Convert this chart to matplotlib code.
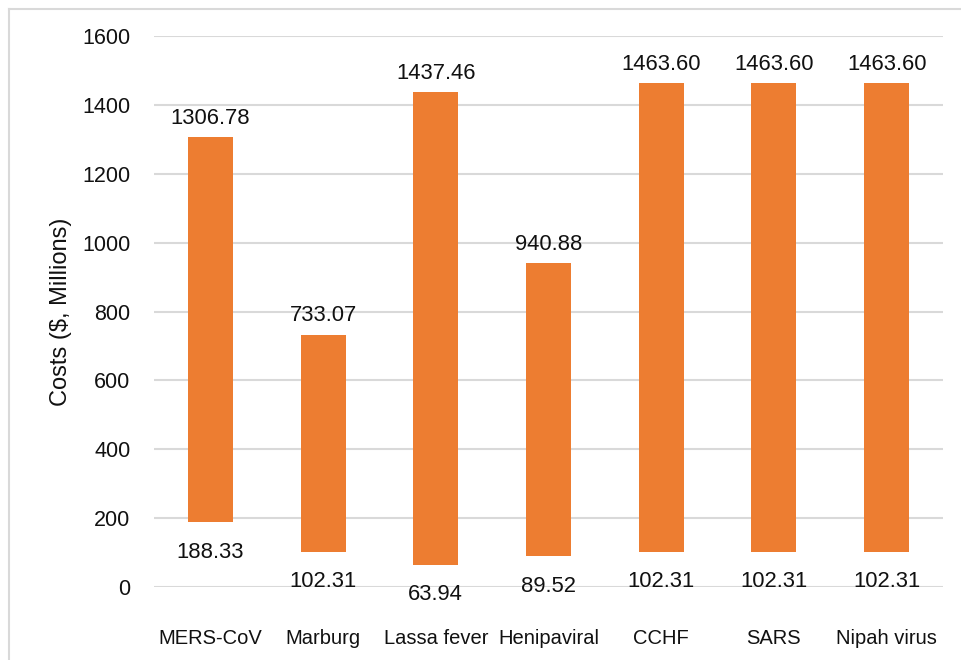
import matplotlib as mpl
mpl.use("Agg")
import matplotlib.pyplot as plt
import numpy as np
from matplotlib.lines import Line2D

# ─── Data ───────────────────────────────────────────────────────────────────
diseases = ["MERS-CoV", "Marburg", "Lassa fever", "Henipaviral", "CCHF", "SARS", "Nipah virus"]
cost_low = [188.33, 102.31, 63.94, 89.52, 102.31, 102.31, 102.31]
cost_high = [1306.78, 733.07, 1437.46, 940.88, 1463.60, 1463.60, 1463.60]
y_ticks = [0, 200, 400, 600, 800, 1000, 1200, 1400, 1600]

# ─── Style ──────────────────────────────────────────────────────────────────
BAR_COL = "#ED7D31"
GRID_COL = "#D9D9D9"
TXT_COL = "#111111"
plt.rcParams["font.family"] = ["Liberation Sans", "DejaVu Sans"]

W, H = 961, 660
fig = plt.figure(figsize=(W / 100, H / 100), dpi=100)
ax = fig.add_axes([154 / W, 1 - 587 / H, (943 - 154) / W, (587 - 36) / H])

x = np.arange(len(diseases))
low = np.array(cost_low)
high = np.array(cost_high)

ax.bar(x, high - low, bottom=low, width=0.4, color=BAR_COL, zorder=3)

# value labels: top above bar, bottom below bar
for xi, lo, hi in zip(x, low, high):
    ax.annotate(f"{hi:.2f}", (xi, hi), xytext=(0, 6), textcoords="offset points",
                ha="center", va="bottom", fontsize=15.8, color=TXT_COL)
    ax.annotate(f"{lo:.2f}", (xi, lo), xytext=(0, -14), textcoords="offset points",
                ha="center", va="top", fontsize=15.8, color=TXT_COL)

ax.set_xlim(-0.5, len(diseases) - 0.5)
ax.set_ylim(0, 1600)
ax.set_yticks(y_ticks)
ax.set_xticks(x)
ax.set_xticklabels(diseases)
ax.tick_params(axis="both", length=0, colors=TXT_COL)
ax.tick_params(axis="x", pad=30, labelsize=14.5)
ax.tick_params(axis="y", pad=17, labelsize=15.5)
ax.yaxis.grid(True, color=GRID_COL, linewidth=1.5, zorder=0)
ax.set_axisbelow(True)
for s in ax.spines.values():
    s.set_visible(False)
ax.set_ylabel("Costs ($, Millions)", fontsize=17, color=TXT_COL, labelpad=7)

# chart frame (only top and left visible in the crop)
fig.add_artist(Line2D([9 / W, 1], [1 - 9 / H, 1 - 9 / H], color=GRID_COL, lw=1.5,
                      transform=fig.transFigure))
fig.add_artist(Line2D([9 / W, 9 / W], [0, 1 - 9 / H], color=GRID_COL, lw=1.5,
                      transform=fig.transFigure))

fig.savefig("out.png", dpi=100)
